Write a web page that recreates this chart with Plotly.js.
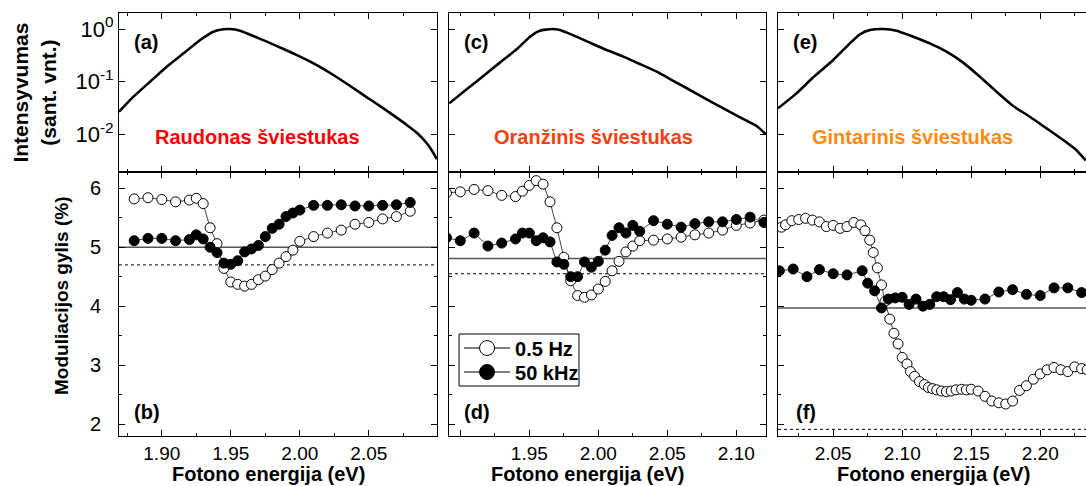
<!DOCTYPE html>
<html><head><meta charset="utf-8">
<script src="https://cdn.plot.ly/plotly-3.0.1.min.js"></script>
<style>html,body{margin:0;padding:0;overflow:hidden;width:1086px;height:486px;background:#fff}</style>
</head><body><div id="chart" style="width:1096px;height:486px"></div>
<script>
// ---------- DATA ----------
// (a) red LED spectrum
const specA_x = [1.869,1.8795,1.8915,1.9036,1.9157,1.9278,1.9374,1.9447,1.9495,1.9568,1.9664,1.9761,1.9882,2.0002,2.0123,2.0244,2.0365,2.0486,2.0606,2.0679,2.0775,2.0848,2.092,2.0969,2.0993];
const specA_y = [0.0269,0.0519,0.100,0.193,0.345,0.618,0.889,0.986,1.0,0.929,0.736,0.575,0.417,0.299,0.207,0.134,0.0828,0.0505,0.0312,0.0229,0.0151,0.0107,0.00676,0.00437,0.00339];
// (c) orange LED spectrum
const specC_x = [1.892,1.9046,1.9167,1.9287,1.9408,1.9505,1.9577,1.9662,1.9722,1.9819,1.994,2.006,2.0181,2.0302,2.0423,2.0543,2.0664,2.0785,2.0906,2.1027,2.1147,2.1215];
const specC_y = [0.0388,0.0715,0.128,0.230,0.411,0.715,0.929,1.0,0.957,0.758,0.550,0.399,0.299,0.216,0.155,0.104,0.0695,0.0462,0.0312,0.0210,0.0144,0.0100];
// (e) amber LED spectrum
const specE_x = [2.010,2.0234,2.0355,2.05,2.0621,2.0693,2.0766,2.0862,2.0959,2.108,2.120,2.1321,2.1442,2.1563,2.1683,2.1804,2.1925,2.2046,2.2167,2.2263,2.233];
const specE_y = [0.0312,0.060,0.121,0.258,0.535,0.793,0.957,1.0,0.929,0.714,0.535,0.372,0.230,0.124,0.0646,0.0345,0.0216,0.0130,0.0078,0.0050,0.0032];

// (b) modulation depth, red LED
const b_x = [1.88,1.89,1.90,1.91,1.92,1.925,1.93,1.935,1.94,1.945,1.95,1.955,1.96,1.965,1.97,1.975,1.98,1.985,1.99,1.995,2.00,2.01,2.02,2.03,2.04,2.05,2.06,2.07,2.08];
const b_low = [5.82,5.84,5.81,5.77,5.80,5.83,5.74,5.33,5.06,4.64,4.41,4.37,4.34,4.37,4.45,4.51,4.62,4.73,4.84,4.95,5.10,5.18,5.24,5.29,5.39,5.42,5.48,5.52,5.61];
const b_high = [5.11,5.15,5.15,5.11,5.13,5.21,5.14,5.00,4.91,4.73,4.71,4.77,4.92,4.97,5.03,5.18,5.32,5.39,5.52,5.58,5.63,5.71,5.71,5.72,5.70,5.70,5.71,5.72,5.76];

// (d) modulation depth, orange LED
const d_x = [1.89,1.90,1.91,1.92,1.93,1.94,1.945,1.95,1.955,1.96,1.965,1.97,1.975,1.98,1.985,1.99,1.995,2.00,2.005,2.01,2.015,2.02,2.025,2.03,2.04,2.05,2.06,2.07,2.08,2.09,2.10,2.11,2.12];
const d_low = [5.92,5.94,5.98,5.96,5.88,5.86,5.95,6.05,6.13,6.07,5.77,5.33,4.83,4.43,4.18,4.15,4.19,4.29,4.42,4.60,4.76,4.92,5.02,5.11,5.12,5.14,5.17,5.21,5.24,5.29,5.37,5.41,5.46];
const d_high = [5.16,5.11,5.24,5.02,5.07,5.14,5.24,5.24,5.11,5.16,5.09,4.75,4.71,4.50,4.50,4.75,4.66,4.76,4.95,5.20,5.33,5.24,5.37,5.27,5.45,5.39,5.34,5.40,5.43,5.43,5.47,5.51,5.42];

// (f) modulation depth, amber LED
const f_low_x = [2.0125,2.0155,2.020,2.025,2.030,2.035,2.040,2.045,2.050,2.055,2.060,2.065,2.070,2.073,2.0765,2.079,2.082,2.085,2.0875,2.091,2.094,2.097,2.100,2.1035,2.106,2.109,2.1125,2.116,2.119,2.122,2.125,2.1285,2.132,2.1355,2.139,2.143,2.1465,2.150,2.155,2.160,2.165,2.170,2.175,2.180,2.185,2.190,2.195,2.200,2.205,2.210,2.215,2.220,2.225,2.230,2.234];
const f_low = [5.34,5.38,5.45,5.47,5.49,5.46,5.43,5.35,5.37,5.32,5.35,5.42,5.38,5.28,5.12,4.91,4.65,4.36,4.08,3.78,3.54,3.36,3.13,3.02,2.89,2.81,2.72,2.67,2.62,2.60,2.58,2.56,2.55,2.56,2.58,2.59,2.58,2.59,2.56,2.47,2.39,2.36,2.34,2.39,2.57,2.65,2.76,2.85,2.92,2.96,2.92,2.89,2.97,2.94,2.92];
const f_high_x = [2.011,2.021,2.031,2.040,2.050,2.060,2.071,2.075,2.080,2.085,2.090,2.095,2.100,2.105,2.110,2.115,2.120,2.125,2.130,2.135,2.140,2.145,2.150,2.160,2.170,2.180,2.190,2.200,2.210,2.220,2.230];
const f_high = [4.60,4.63,4.50,4.62,4.55,4.53,4.60,4.39,4.26,3.97,4.12,4.14,4.15,4.03,4.12,4.00,4.03,4.16,4.16,4.11,4.23,4.12,4.10,4.12,4.24,4.28,4.20,4.18,4.31,4.31,4.23];

// reference levels (b, d, f)
const refSolid = [5.00, 4.81, 3.97];
const refDotted = [4.70, 4.55, 1.91];

// labels
const seriesNames = ['0.5 Hz', '50 kHz'];
const ledNames = ['Raudonas šviestukas', 'Oranžinis šviestukas', 'Gintarinis šviestukas'];
const ledColors = ['#ff0000', '#f5400f', '#ff8a12'];
const panelLetters = ['(a)', '(c)', '(e)', '(b)', '(d)', '(f)'];
const logTickVals = [1, 0.1, 0.01];
const logTickText = ['10<sup>0</sup>', '10<sup>-1</sup>', '10<sup>-2</sup>'];
const xTickVals = [[1.90, 1.95, 2.00, 2.05], [1.90, 1.95, 2.00, 2.05, 2.10], [2.05, 2.10, 2.15, 2.20]];
const xTickText = [['1.90', '1.95', '2.00', '2.05'], ['', '1.95', '2.00', '2.05', '2.10'], ['2.05', '2.10', '2.15', '2.20']];
const xTitle = 'Fotono energija (eV)';
const yTitleTop = 'Intensyvumas<br>(sant. vnt.)';
const yTitleBottom = 'Moduliacijos gylis (%)';

// ---------- LAYOUT ----------
const FONT = 'Liberation Sans, Arial, Helvetica, sans-serif';
const xRanges = [[1.869, 2.0994], [1.8918, 2.1215], [2.010, 2.2397]];
const xDomains = [[0, 0.3258], [0.3381, 0.6629], [0.6752, 1]];
const yDomTop = [0.6241, 1], yDomBot = [0, 0.6241];

function xax(i, anchor, labels) {
  return {
    range: xRanges[i], domain: xDomains[i], anchor: anchor,
    showline: true, linecolor: '#000', linewidth: 1, mirror: 'ticks',
    ticks: 'inside', ticklen: 6, tickwidth: 1, tickcolor: '#000',
    tickmode: 'array', tickvals: xTickVals[i], ticktext: xTickText[i],
    minor: {tick0: 1.9, dtick: 0.025, ticks: 'inside', ticklen: 3, tickcolor: '#000', showgrid: false},
    showticklabels: labels, showgrid: false, zeroline: false,
    tickfont: {family: FONT, size: 19, color: '#000'}
  };
}
function yTop(anchor, labels) {
  return {
    type: 'log', range: [-2.715, 0.304], domain: yDomTop, anchor: anchor,
    showline: true, linecolor: '#000', linewidth: 1, mirror: 'ticks',
    ticks: 'inside', ticklen: 6, tickwidth: 1, tickcolor: '#000',
    tickvals: logTickVals, ticktext: logTickText,
    showticklabels: labels, showgrid: false, zeroline: false, ticklabelstandoff: 0,
    tickfont: {family: FONT, size: 22, color: '#000'}
  };
}
function yBot(anchor, labels) {
  return {
    range: [1.797, 6.276], domain: yDomBot, anchor: anchor,
    showline: true, linecolor: '#000', linewidth: 1, mirror: 'ticks',
    ticks: 'inside', ticklen: 6, tickwidth: 1, tickcolor: '#000',
    tick0: 0, dtick: 1,
    minor: {tick0: 0, dtick: 0.5, ticks: 'inside', ticklen: 3, tickcolor: '#000', showgrid: false},
    showticklabels: labels, showgrid: false, zeroline: false, ticklabelstandoff: 13,
    tickfont: {family: FONT, size: 20, color: '#000'}
  };
}

const traces = [];
const specs = [[specA_x, specA_y], [specC_x, specC_y], [specE_x, specE_y]];
specs.forEach((s, i) => {
  traces.push({x: s[0], y: s[1], xaxis: 'x' + (i ? i + 1 : ''), yaxis: 'y' + (i ? i + 1 : ''),
    mode: 'lines', line: {color: '#000', width: 2.6, shape: 'spline', smoothing: 0.5},
    showlegend: false, hoverinfo: 'skip'});
});
const openStyle = {symbol: 'circle', size: 10, color: '#fff', line: {color: '#000', width: 1}};
const fillStyle = {symbol: 'circle', size: 10, color: '#000', line: {color: '#000', width: 1}};
const lineStyle = {color: '#333', width: 0.9};
const mod = [[b_x, b_low, b_x, b_high], [d_x, d_low, d_x, d_high], [f_low_x, f_low, f_high_x, f_high]];
mod.forEach((m, i) => {
  const xa = 'x' + (i + 4), ya = 'y' + (i + 4);
  traces.push({x: m[0], y: m[1], xaxis: xa, yaxis: ya, mode: 'lines+markers', marker: openStyle, line: lineStyle, showlegend: false, name: seriesNames[0]});
  traces.push({x: m[2], y: m[3], xaxis: xa, yaxis: ya, mode: 'lines+markers', marker: fillStyle, line: lineStyle, showlegend: false, name: seriesNames[1]});
});
// legend entries (larger symbols as in the reference legend), one per legend for tight spacing
traces.push({x: [null], y: [null], xaxis: 'x5', yaxis: 'y5', mode: 'lines+markers', name: seriesNames[0], legend: 'legend',
  marker: Object.assign({}, openStyle, {size: 15}), line: {color: '#000', width: 1}});
traces.push({x: [null], y: [null], xaxis: 'x5', yaxis: 'y5', mode: 'lines+markers', name: seriesNames[1], legend: 'legend2',
  marker: Object.assign({}, fillStyle, {size: 15}), line: {color: '#000', width: 1}});

const shapes = [];
refSolid.forEach((v, i) => shapes.push({type: 'line', layer: 'below', xref: 'x' + (i + 4) + ' domain', x0: 0, x1: 1,
  yref: 'y' + (i + 4), y0: v, y1: v, line: {color: '#555', width: 1.5}}));
refDotted.forEach((v, i) => shapes.push({type: 'line', layer: 'below', xref: 'x' + (i + 4) + ' domain', x0: 0, x1: 1,
  yref: 'y' + (i + 4), y0: v, y1: v, line: {color: '#000', width: 1, dash: 'dot'}}));
// legend frame
shapes.push({type: 'rect', xref: 'paper', yref: 'paper', x0: 0.3484, x1: 0.4713, y0: 0.1182, y1: 0.2411,
  line: {color: '#000', width: 1}, fillcolor: 'rgba(255,255,255,0)', layer: 'above'});

const annotations = [];
const bold = (s, c) => ({family: FONT, size: s, color: c || '#000', weight: 'bold'});
// panel letters
panelLetters.forEach((t, i) => {
  const top = i < 3, k = (i % 3) + (top ? 0 : 3);
  const xs = k === 0 ? '' : String(k + 1);
  annotations.push({text: t, xref: 'x' + xs + ' domain', yref: 'y' + xs + ' domain',
    x: top ? 0.084 : 0.089, y: top ? 0.818 : 0.09, showarrow: false, xanchor: 'center', yanchor: 'middle', font: bold(20)});
});
// LED names
const ledX = [0.434, 0.456, 0.423];
ledNames.forEach((t, i) => {
  const xs = i === 0 ? '' : String(i + 1);
  annotations.push({text: t, xref: 'x' + xs + ' domain', yref: 'y' + xs + ' domain', x: ledX[i], y: 0.22,
    showarrow: false, xanchor: 'center', yanchor: 'middle', font: bold(20, ledColors[i])});
});
// x titles
const xtX = [0.1527, 0.4805, 0.835];
xtX.forEach(x => annotations.push({text: xTitle, xref: 'paper', yref: 'paper', x: x, y: -0.0898,
  showarrow: false, xanchor: 'center', yanchor: 'middle', font: bold(20)}));
// y titles
annotations.push({text: yTitleTop, xref: 'paper', yref: 'paper', x: -0.0866, y: 0.813, textangle: -90,
  showarrow: false, xanchor: 'center', yanchor: 'middle', font: bold(21)});
annotations.push({text: yTitleBottom, xref: 'paper', yref: 'paper', x: -0.0584, y: 0.331, textangle: -90,
  showarrow: false, xanchor: 'center', yanchor: 'middle', font: bold(19)});

const legBase = {xanchor: 'left', yanchor: 'middle', xref: 'paper', yref: 'paper',
  bgcolor: 'rgba(255,255,255,0)', borderwidth: 0, font: bold(20), itemwidth: 46};
const layout = {
  width: 1096, height: 486,
  margin: {l: 119, r: 1, t: 13, b: 50, pad: 0},
  paper_bgcolor: '#fff', plot_bgcolor: '#fff',
  font: {family: FONT, color: '#000'},
  showlegend: true,
  legend: Object.assign({x: 0.3484, y: 0.208}, legBase),
  legend2: Object.assign({x: 0.3484, y: 0.1513}, legBase),
  xaxis: xax(0, 'y', false), yaxis: yTop('x', true),
  xaxis2: xax(1, 'y2', false), yaxis2: yTop('x2', false),
  xaxis3: xax(2, 'y3', false), yaxis3: yTop('x3', false),
  xaxis4: xax(0, 'y4', true), yaxis4: yBot('x4', true),
  xaxis5: xax(1, 'y5', true), yaxis5: yBot('x5', false),
  xaxis6: xax(2, 'y6', true), yaxis6: yBot('x6', false),
  shapes: shapes, annotations: annotations
};
Plotly.newPlot('chart', traces, layout, {staticPlot: true, displayModeBar: false});
</script></body></html>
